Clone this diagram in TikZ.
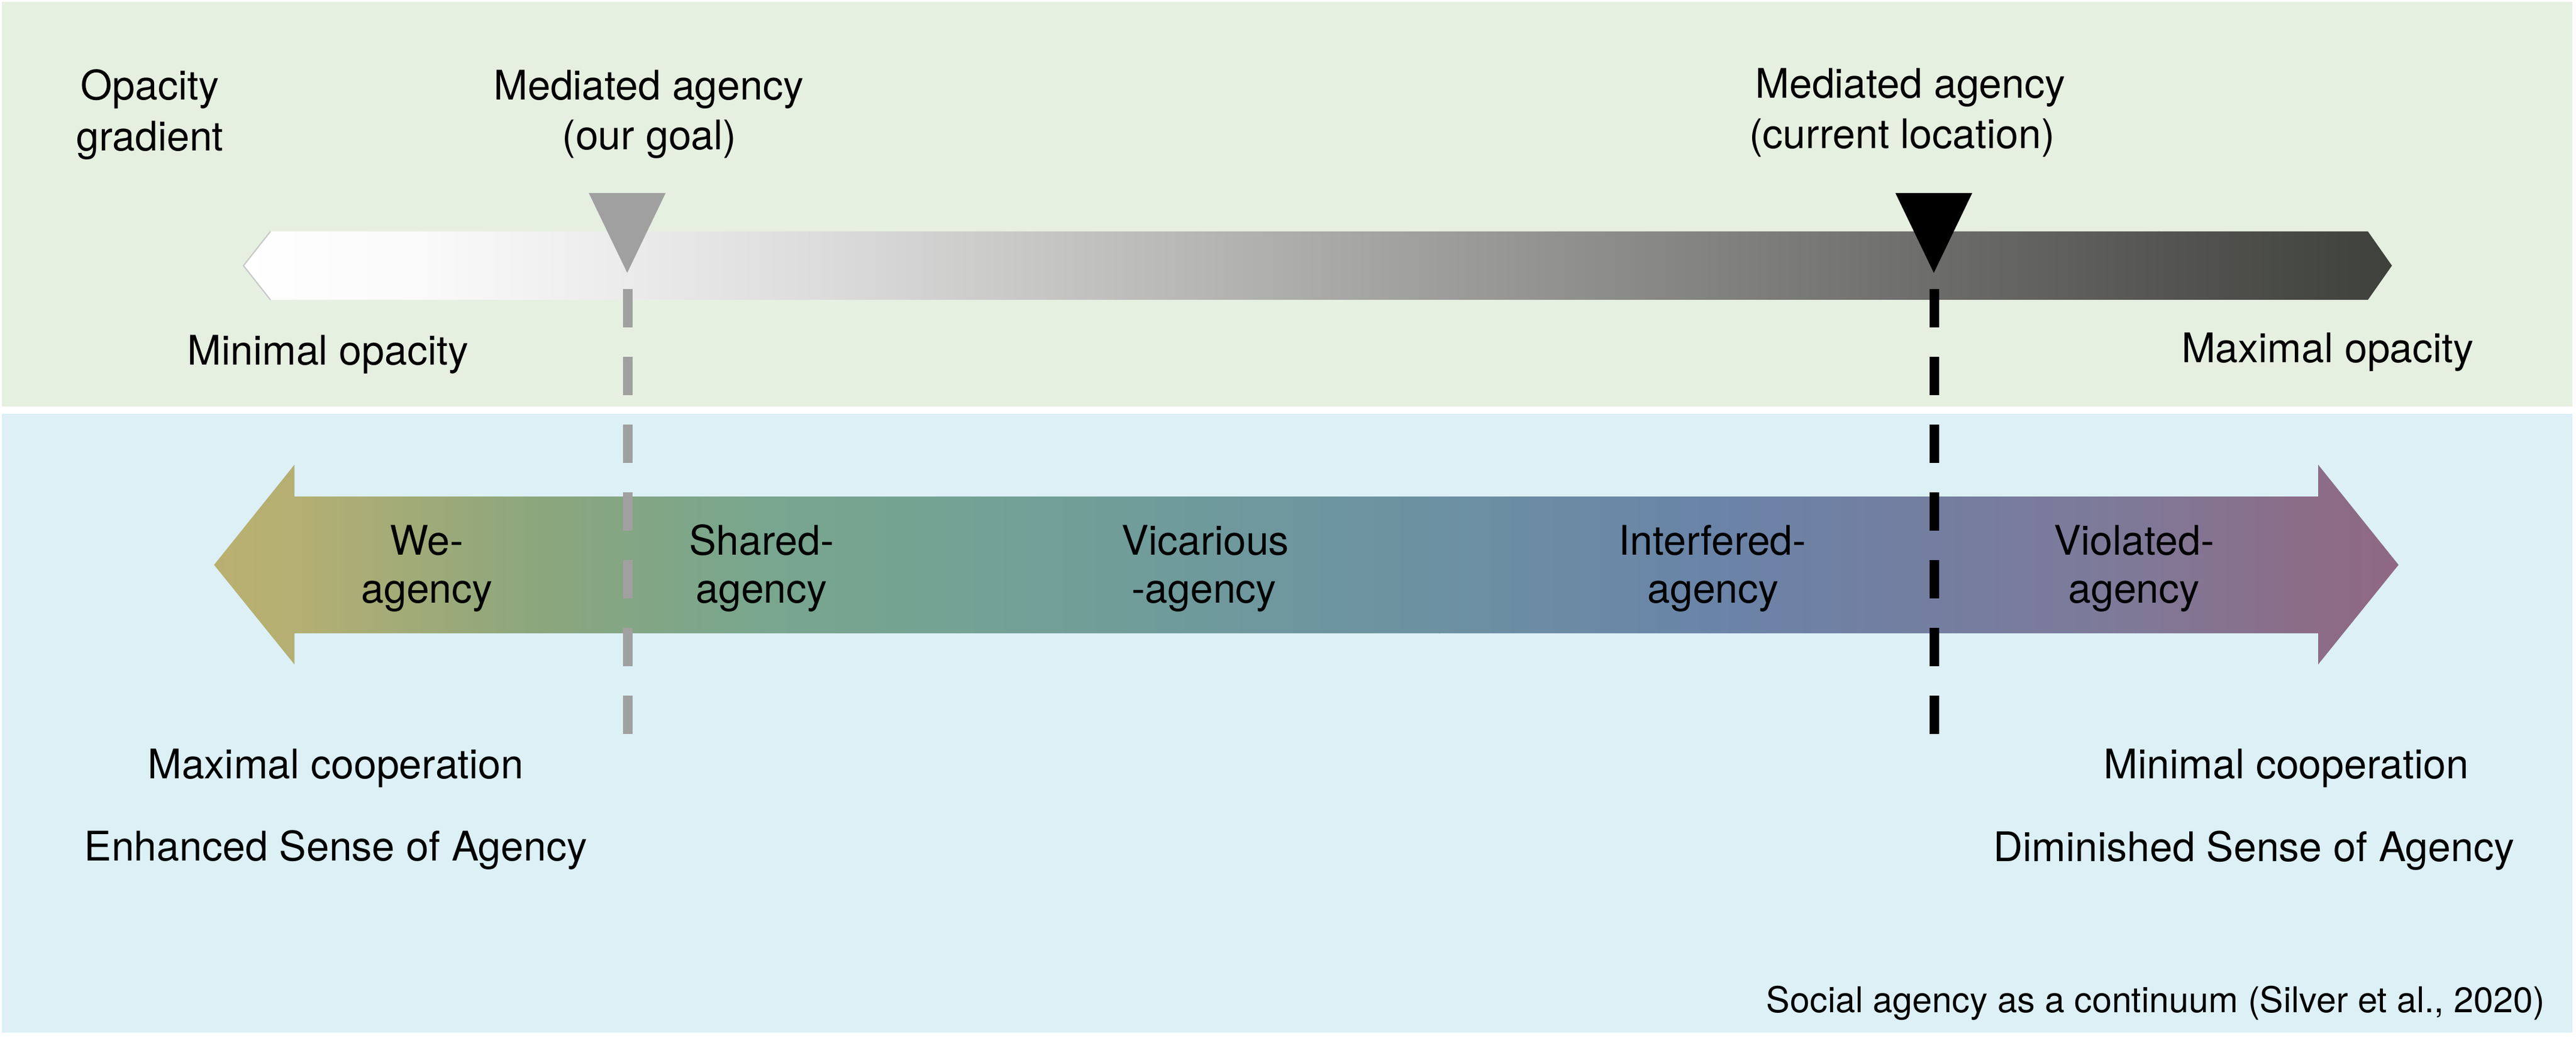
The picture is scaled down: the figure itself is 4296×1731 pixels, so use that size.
\documentclass[tikz,border=0pt]{standalone}
\usepackage{fontspec}
\setmainfont{TeX Gyre Heros}
\definecolor{bggreen}{RGB}{230,240,225}
\definecolor{bgblue}{RGB}{220,240,246}
\definecolor{markgray}{RGB}{160,160,160}
% gray bar stops
\definecolor{ga}{RGB}{255,255,255}
\definecolor{gb}{RGB}{250,250,250}
\definecolor{gc}{RGB}{235,235,235}
\definecolor{gd}{RGB}{218,218,218}
\definecolor{ge}{RGB}{182,182,180}
\definecolor{gf}{RGB}{145,145,143}
\definecolor{gg}{RGB}{108,108,106}
\definecolor{gh}{RGB}{85,86,83}
\definecolor{gi}{RGB}{62,64,60}
% colour arrow stops
\definecolor{ca}{RGB}{186,176,112}
\definecolor{cb}{RGB}{180,175,115}
\definecolor{cc}{RGB}{139,166,125}
\definecolor{cd}{RGB}{120,166,142}
\definecolor{ce}{RGB}{116,162,148}
\definecolor{cf}{RGB}{111,154,156}
\definecolor{cg}{RGB}{108,145,162}
\definecolor{ch}{RGB}{106,132,168}
\definecolor{ci}{RGB}{116,126,160}
\definecolor{cj}{RGB}{127,121,152}
\definecolor{ck}{RGB}{140,108,134}
\definecolor{cl}{RGB}{143,104,130}
\begin{document}
\begin{tikzpicture}[x=0.1mm,y=-0.1mm,
  lbl/.style={inner sep=0pt, anchor=base, font=\fontsize{19.35}{23}\selectfont},
  note/.style={inner sep=0pt, anchor=base east, font=\fontsize{16.85}{20}\selectfont},
  marker/.style={line width=1.6mm, dash pattern=on 6.4mm off 4.9mm}]
\useasboundingbox (0,0) rectangle (4296,1731);
\fill[white] (0,0) rectangle (4296,1731);
\fill[bggreen] (3,3) rectangle (4290,678);
\fill[bgblue] (3,690) rectangle (4290,1722);

% opacity gradient bar
\begin{scope}
\clip (451,386) -- (3949,386) -- (3989,443) -- (3949,500) -- (451,500) -- (406,443) -- cycle;
\foreach \xa/\xb/\cA/\cB in {400/700/ga/gb, 700/1046/gb/gc, 1046/1400/gc/gd, 1400/2000/gd/ge, 2000/2600/ge/gf, 2600/3226/gf/gg, 3226/3600/gg/gh, 3600/3995/gh/gi}
  \shade[left color=\cA, right color=\cB] (\xa,380) rectangle (\xb+1,506);
\end{scope}
\draw[line width=0.2mm, gray!45] (451,386) -- (406,443) -- (451,500);

% social agency arrow
\begin{scope}
\clip (357,942) -- (491,775) -- (491,828) -- (3866,828) -- (3866,775) -- (4000,942) -- (3866,1108) -- (3866,1056) -- (491,1056) -- (491,1108) -- cycle;
\foreach \xa/\xb/\cA/\cB in {350/500/ca/cb, 500/900/cb/cc, 900/1270/cc/cd, 1270/1600/cd/ce, 1600/2000/ce/cf, 2000/2400/cf/cg, 2400/2850/cg/ch, 2850/3226/ch/ci, 3226/3560/ci/cj, 3560/3866/cj/ck, 3866/4005/ck/cl}
  \shade[left color=\cA, right color=\cB] (\xa,770) rectangle (\xb+1,1115);
\end{scope}

% markers
\fill[markgray] (982,322) -- (1110,322) -- (1046,455) -- cycle;
\fill[black] (3161,322) -- (3289,322) -- (3225,455) -- cycle;
\coordinate (goaltop) at (1047,482);
\coordinate (goalbot) at (1047,1224);
\coordinate (curtop) at (3226,482);
\coordinate (curbot) at (3226,1224);
\draw[marker, markgray] (goaltop) -- (goalbot);
\draw[marker, black] (curtop) -- (curbot);

% top labels
\node[lbl] (op1) at (250,167) {Opacity};
\node[lbl] (op2) at (250,252) {gradient};
\node[lbl] (goal1) at (1082,167) {Mediated agency};
\node[lbl] (goal2) at (1083,250) {(our goal)};
\node[lbl] (cur1) at (3186,164) {Mediated agency};
\node[lbl] (cur2) at (3172,248) {(current location)};
\node[lbl] (minop) at (547,609) {Minimal opacity};
\node[lbl] (maxop) at (3882,604) {Maximal opacity};

% arrow labels
\node[lbl] (we1) at (712,925) {We-};
\node[lbl] (we2) at (712,1005) {agency};
\node[lbl] (sh1) at (1270,925) {Shared-};
\node[lbl] (sh2) at (1270,1005) {agency};
\node[lbl] (vi1) at (2010,925) {Vicarious};
\node[lbl] (vi2) at (2008,1005) {-agency};
\node[lbl] (in1) at (2856,925) {Interfered-};
\node[lbl] (in2) at (2857,1005) {agency};
\node[lbl] (vo1) at (3559,925) {Violated-};
\node[lbl] (vo2) at (3559,1005) {agency};

% bottom labels
\node[lbl] (maxco) at (560,1298) {Maximal cooperation};
\node[lbl] (enh) at (560,1435) {Enhanced Sense of Agency};
\node[lbl] (minco) at (3813,1298) {Minimal cooperation};
\node[lbl] (dim) at (3759,1436) {Diminished Sense of Agency};
\node[note] (src) at (4245,1688) {Social agency as a continuum (Silver et al., 2020)};
\end{tikzpicture}
\end{document}
